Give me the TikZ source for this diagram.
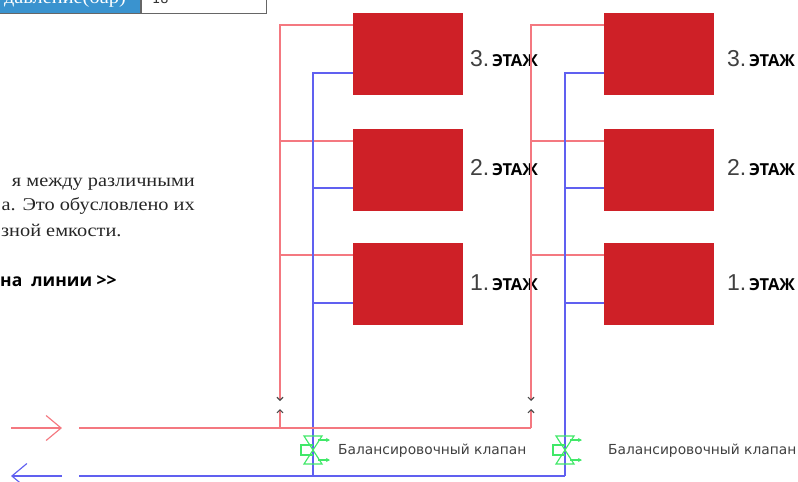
\documentclass[tikz,border=0pt]{standalone}
\usepackage{fontspec}
\setmainfont{Liberation Serif}
\newfontfamily\bodyfont[FakeStretch=1.13]{Liberation Serif}
\newfontfamily\labelfont{DejaVu Sans}
\newfontfamily\boldfont{Open Sans}
\newfontfamily\digitfont{Liberation Sans}
\definecolor{radred}{HTML}{CE2027}
\definecolor{hotline}{HTML}{F47880}
\definecolor{coldline}{HTML}{6060F0}
\definecolor{valvegreen}{HTML}{40E868}
\definecolor{cellblue}{HTML}{3A93CF}
\usetikzlibrary{arrows.meta}
\tikzset{
    radiator/.style={fill=radred, draw=none, minimum width=110pt, minimum height=82pt, inner sep=0pt},
    hot/.style={draw=hotline, line width=1.15pt},
    cold/.style={draw=coldline, line width=1.15pt},
    floorlabel/.style={anchor=base west, inner sep=0pt, font=\boldfont\bfseries\fontsize{16.5}{16}\selectfont},
    valvelabel/.style={anchor=west, inner sep=0pt, text=black!75, font=\labelfont\fontsize{13.8}{14}\selectfont},
    bodytext/.style={anchor=base east, inner sep=0pt, text=black!85, font=\bodyfont\fontsize{18}{20}\selectfont},
    valve/.style={draw=valvegreen, line width=1.15pt},
    valvetip/.style={valve, -{Stealth[length=4pt,width=4pt]}},
}
\newcommand{\floornum}[1]{{\digitfont\mdseries\color{black!75}\fontsize{23}{23}\selectfont #1.}}
\begin{document}
\begin{tikzpicture}[x=1pt,y=-1pt]
    \useasboundingbox (0,0) rectangle (798,482);

    % Table corner
    \node[fill=cellblue, draw=black!60, line width=1.2pt, minimum width=141pt, minimum height=14pt, inner sep=0pt, anchor=north west] (cella) at (-1,-1) {};
    \node[draw=black!60, line width=1.2pt, minimum width=125pt, minimum height=14pt, inner sep=0pt, anchor=north west] (cellb) at (141,-1) {};
    \node[anchor=base east, inner sep=0pt, text=white, font=\bodyfont\fontsize{18}{20}\selectfont] (celltext) at (126,3) {давление(бар)};
    \node[anchor=base west, inner sep=0pt, text=black!80, font=\labelfont\fontsize{13}{14}\selectfont] (cellvalue) at (152,3) {18};

    % Body text
    \node[bodytext] (linea) at (195,186) {я между различными};
    \node[bodytext] (lineb) at (195,210) {а. Это обусловлено их};
    \node[bodytext, anchor=base west] (linec) at (1,236) {зной емкости.};
    \node[anchor=base west, inner sep=0pt, font=\boldfont\bfseries\fontsize{17.5}{18}\selectfont] (lined) at (0,286) {на\ \ линии >>};

    % Radiators
    \foreach \col/\xpos in {a/408, b/659} {
        \node[radiator] (rad\col3) at (\xpos,54) {};
        \node[radiator] (rad\col2) at (\xpos,170) {};
        \node[radiator] (rad\col1) at (\xpos,284) {};
    }

    % Floor labels
    \foreach \num/\ypos in {3/66, 2/175, 1/290} {
        \node[floorlabel] (floora\num) at (470,\ypos) {\floornum{\num}\,ЭТАЖ};
        \node[floorlabel] (floorb\num) at (727,\ypos) {\floornum{\num}\,ЭТАЖ};
    }

    % Supply and return risers
    \coordinate (tipa) at (280,401);
    \coordinate (stuba) at (280,409);
    \coordinate (tipb) at (531,401);
    \coordinate (stubb) at (531,409);
    \coordinate (maina) at (280,428);
    \coordinate (mainb) at (531,428);
    \coordinate (backa) at (313,476);
    \coordinate (backb) at (565,476);
    \coordinate (instart) at (79,428);
    \coordinate (outstart) at (79,476);

    \foreach \col/\rx/\bx in {a/280/313, b/531/565} {
        \draw[hot] (rad\col3.west |- 0,25) -- (\rx,25) -- (\rx,392);
        \draw[hot] (rad\col2.west |- 0,141) -- (\rx,141);
        \draw[hot] (rad\col1.west |- 0,255) -- (\rx,255);
        \draw[cold] (rad\col3.west |- 0,73) -- (\bx,73) -- (\bx,476);
        \draw[cold] (rad\col2.west |- 0,188) -- (\bx,188);
        \draw[cold] (rad\col1.west |- 0,303) -- (\bx,303);
    }

    % Small arrows at the riser ends
    \foreach \tip/\stub/\main/\rx in {tipa/stuba/maina/280, tipb/stubb/mainb/531} {
        \draw[hot, -{Straight Barb[length=3pt,width=6pt,color=black!70]}] (\rx,392) -- (\tip);
        \draw[hot, -{Straight Barb[length=3pt,width=6pt,color=black!70]}] (\main) -- (\stub);
    }

    % Mains
    \draw[hot] (instart) -- (mainb);
    \draw[cold] (outstart) -- (backb);

    % Flow arrows
    \coordinate (inleft) at (11,428);
    \coordinate (inright) at (62,428);
    \coordinate (outleft) at (11,476);
    \coordinate (outright) at (62,476);
    \draw[hot, -{Straight Barb[length=15pt,width=25pt]}] (inleft) -- (inright);
    \draw[cold, -{Straight Barb[length=15pt,width=25pt]}] (outright) -- (outleft);

    % Balancing valves
    \foreach \name/\vx/\tx in {a/313/338, b/565/608} {
        \begin{scope}[shift={(\vx,450)}]
            \draw[valve] (-9,-14) -- (9,-14) -- (-9,14) -- (9,14) -- cycle;
            \draw[valve] (0,-5) -- (-12,-5) -- (-12,5) -- (0,5);
            \draw[valvetip] (5,-10) -- (17,-10);
            \draw[valvetip] (5,10) -- (17,10);
        \end{scope}
        \node[valvelabel] (valve\name) at (\tx,451) {Балансировочный клапан};
    }
\end{tikzpicture}
\end{document}
